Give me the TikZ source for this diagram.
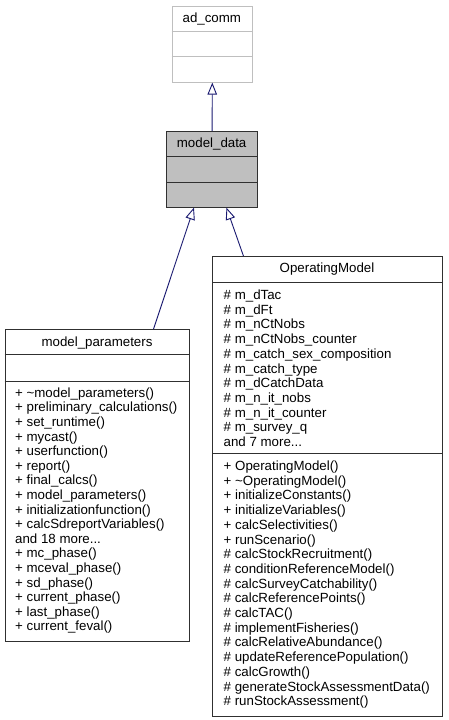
\documentclass[tikz,border=0pt]{standalone}
\usepackage{fontspec}
\setmainfont{Liberation Sans}
\usetikzlibrary{arrows.meta}
\definecolor{edgeblue}{HTML}{191970}
\definecolor{boxgray}{HTML}{BFBFBF}
\definecolor{frame}{HTML}{303030}
\begin{document}
\begin{tikzpicture}[x=1pt,y=-1pt,
  classbox/.style={draw=frame, line width=0.9pt, rectangle, inner sep=0pt, anchor=north west, fill=white},
  extbox/.style={classbox, draw=boxgray},
  sepline/.style={draw=frame, line width=0.9pt},
  extsep/.style={draw=boxgray, line width=0.9pt},
  titletext/.style={font=\fontsize{13.3}{14.7}\selectfont, inner sep=0pt, anchor=base},
  membertext/.style={font=\fontsize{13.3}{14.7}\selectfont, inner sep=0pt, anchor=base west},
  inherit/.style={draw=edgeblue, line width=0.9pt, -{Triangle[open, length=12pt, width=9.5pt]}}
]
\useasboundingbox (0,0) rectangle (448,720);

% ad_comm
\node[extbox, minimum width=80.3pt, minimum height=76pt] (adcomm) at (171.7,5.7) {};
\draw[extsep] (171.7,31.7) -- (252,31.7);
\draw[extsep] (171.7,56.7) -- (252,56.7);
\node[titletext] (adcommT) at (211.85,22) {ad\_comm};

% model_data
\node[classbox, fill=boxgray, minimum width=91.3pt, minimum height=75.7pt] (modeldata) at (166,131) {};
\draw[sepline] (166,156.3) -- (257.3,156.3);
\draw[sepline] (166,182) -- (257.3,182);
\node[titletext] (modeldataT) at (211.65,147) {model\_data};

% model_parameters
\node[classbox, minimum width=184.6pt, minimum height=311.4pt] (mp) at (4.7,329.3) {};
\draw[sepline] (4.7,354.3) -- (189.3,354.3);
\draw[sepline] (4.7,381) -- (189.3,381);
\node[titletext] (mpT) at (97,346) {model\_parameters};
\foreach [count=\i] \t in {%
{+ \textasciitilde model\_parameters()},
{+ preliminary\_calculations()},
{+ set\_runtime()},
{+ mycast()},
{+ userfunction()},
{+ report()},
{+ final\_calcs()},
{+ model\_parameters()},
{+ initializationfunction()},
{+ calcSdreportVariables()},
{and 18 more.{}.{}.},
{+ mc\_phase()},
{+ mceval\_phase()},
{+ sd\_phase()},
{+ current\_phase()},
{+ last\_phase()},
{+ current\_feval()}}
  \node[membertext] (mpm-\i) at (15,{397.2+(\i-1)*14.6}) {\t};

% OperatingModel
\node[classbox, minimum width=229.4pt, minimum height=459.5pt] (om) at (212.3,256) {};
\draw[sepline] (212.3,282) -- (441.7,282);
\draw[sepline] (212.3,453) -- (441.7,453);
\node[titletext] (omT) at (327,272.8) {OperatingModel};
\foreach [count=\i] \t in {%
{\# m\_dTac},
{\# m\_dFt},
{\# m\_nCtNobs},
{\# m\_nCtNobs\_counter},
{\# m\_catch\_sex\_composition},
{\# m\_catch\_type},
{\# m\_dCatchData},
{\# m\_n\_it\_nobs},
{\# m\_n\_it\_counter},
{\# m\_survey\_q},
{and 7 more.{}.{}.}}
  \node[membertext] (oma-\i) at (223.5,{299.5+(\i-1)*14.7}) {\t};
\foreach [count=\i] \t in {%
{+ OperatingModel()},
{+ \textasciitilde OperatingModel()},
{+ initializeConstants()},
{+ initializeVariables()},
{+ calcSelectivities()},
{+ runScenario()},
{\# calcStockRecruitment()},
{\# conditionReferenceModel()},
{\# calcSurveyCatchability()},
{\# calcReferencePoints()},
{\# calcTAC()},
{\# implementFisheries()},
{\# calcRelativeAbundance()},
{\# updateReferencePopulation()},
{\# calcGrowth()},
{\# generateStockAssessmentData()},
{\# runStockAssessment()}}
  \node[membertext] (omm-\i) at (223.5,{470.5+(\i-1)*14.7}) {\t};

% inheritance edges
\draw[inherit] (modeldata.north) -- (adcomm.south);
\draw[inherit] ([xshift=56pt]mp.north) -- ([xshift=-18.15pt]modeldata.south);
\draw[inherit] ([xshift=-84pt]om.north) -- ([xshift=14.35pt]modeldata.south);
\end{tikzpicture}
\end{document}
